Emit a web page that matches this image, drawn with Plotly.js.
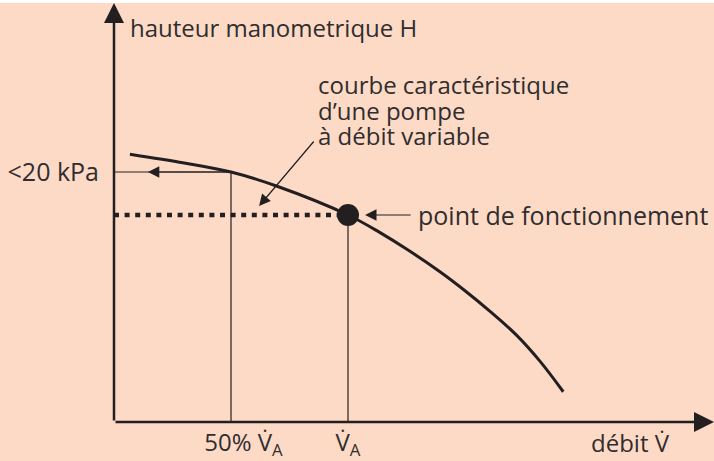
<!DOCTYPE html>
<html>
<head>
<meta charset="utf-8">
<script src="https://cdn.plot.ly/plotly-3.0.1.min.js"></script>
<style>html,body{margin:0;padding:0;background:#FDDAC6;}#chart{width:714px;height:461px;}</style>
</head>
<body>
<div id="chart"></div>
<script>
// Pump characteristic curve (flow as fraction of V_A, head in kPa)
const curveFlow = [0.068, 0.30, 0.50, 0.697, 1.00, 1.137, 1.25, 1.393, 1.50, 1.607, 1.72, 1.821, 1.920];
const curveHead = [21.42, 20.72, 20.0, 18.86, 16.56, 15.15, 13.84, 12.02, 10.5, 8.85, 6.95, 4.85, 2.42];
const opFlow = 1.0;      // V_A
const opHead = 16.56;    // operating head
const halfFlow = 0.5;    // 50% V_A
const halfHead = 20;     // < 20 kPa
const xTickVals = [0.5, 1.0];
const xTickText = ['\u00a0\u00a0\u00a0\u00a050% V\u0307<sub>A</sub>', 'V\u0307<sub>A</sub>'];
const yTickVals = [20];
const yTickText = ['<20 kPa'];
const xMax = 2.5641, yMax = 33.52;

const INK = '#231f20';
const TXT = '#302d2e';
const FONT = 'Open Sans, sans-serif';
const FS = 24;

const traces = [
  {x: curveFlow, y: curveHead, mode: 'lines', line: {color: INK, width: 3, shape: 'spline', smoothing: 1}, hoverinfo: 'skip'},
  {x: [0, opFlow], y: [opHead, opHead], mode: 'lines', line: {color: INK, width: 4.5, dash: '5px,5.6px'}, hoverinfo: 'skip'},
  {x: [0, halfFlow], y: [halfHead, halfHead], mode: 'lines', line: {color: INK, width: 1.2}, hoverinfo: 'skip'},
  {x: [halfFlow, halfFlow], y: [0, halfHead], mode: 'lines', line: {color: INK, width: 1.2}, hoverinfo: 'skip'},
  {x: [opFlow, opFlow], y: [0, opHead], mode: 'lines', line: {color: INK, width: 1.2}, hoverinfo: 'skip'},
  {x: [opFlow], y: [opHead], mode: 'markers', marker: {color: INK, size: 22}, hoverinfo: 'skip'}
];

function arrow(x, y, ax, ay, w, s) {
  return {x: x, y: y, ax: ax, ay: ay, xref: 'x', yref: 'y', axref: 'x', ayref: 'y',
    text: '', showarrow: true, arrowhead: 2, arrowsize: s, arrowwidth: w, arrowcolor: INK};
}
function label(text, x, y, xa, size, yref) {
  return {x: x, y: y, xref: 'x', yref: yref || 'y', text: text, showarrow: false,
    xanchor: xa, yanchor: 'middle', align: 'left', font: {family: FONT, size: size, color: TXT}};
}

const layout = {
  width: 714, height: 461,
  margin: {l: 114, r: 0, t: 3, b: 39},
  paper_bgcolor: '#FDDAC6', plot_bgcolor: '#FDDAC6',
  showlegend: false,
  xaxis: {range: [0, xMax], showgrid: false, zeroline: false, showline: false, ticks: '',
    tickmode: 'array', tickvals: xTickVals, ticktext: xTickText, ticklabelstandoff: 4,
    tickfont: {family: FONT, size: FS, color: TXT}, fixedrange: true},
  yaxis: {range: [0, yMax], showgrid: false, zeroline: false, showline: false, ticks: '',
    tickmode: 'array', tickvals: yTickVals, ticktext: yTickText, ticklabelstandoff: 14,
    tickfont: {family: FONT, size: 25, color: TXT}, fixedrange: true},
  shapes: [
    {type: 'rect', xref: 'paper', yref: 'paper', x0: -0.2, x1: 1.01, y0: 1, y1: 1.01, fillcolor: '#ffffff', line: {width: 0}, layer: 'above'}
  ],
  annotations: [
    arrow(0, yMax, 0, 0, 2.5, 1.6),
    arrow(xMax, 0, 0, 0, 2.5, 1.6),
    arrow(0.145, halfHead, halfFlow, halfHead, 1.2, 1.9),
    arrow(0.62, 17.28, 0.859, 22.56, 1.2, 1.9),
    arrow(1.073, opHead, 1.274, opHead, 1.2, 1.9),
    label('hauteur manometrique H', 0.06, 31.6, 'left', FS),
    label('courbe caractéristique', 0.865, 27.0, 'left', FS),
    label('d\u2019une pompe', 0.865, 24.9, 'left', FS),
    label('à débit variable', 0.865, 22.9, 'left', FS),
    label('point de fonctionnement', 1.29, 16.56, 'left', 25),
    label('débit V\u0307', 2.03, -0.05, 'left', FS, 'paper')
  ]
};

Plotly.newPlot('chart', traces, layout, {staticPlot: true, displayModeBar: false});
</script>
</body>
</html>
